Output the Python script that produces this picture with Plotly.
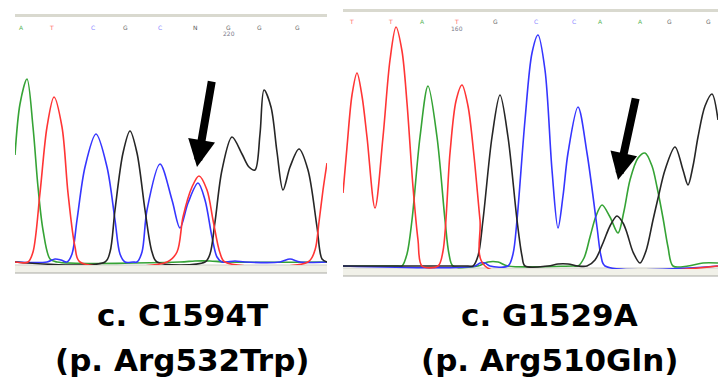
import plotly.graph_objects as go

W, H = 718, 383

# ---------------- Left chromatogram (c.C1594T) ----------------
# scan position / signal intensity
L_green_x = [0, 5, 12, 18, 23, 28, 35, 42, 165, 180, 195, 210, 312]
L_green_y = [107, 158, 183, 135, 75, 32, 3, 0, 0, 1, 1, 0, 0]

L_blue_x = [0, 32, 40, 46, 52, 57, 62, 70, 81, 92, 100, 105, 110, 118, 122, 127, 132,
            145, 157, 165, 173, 183, 190, 197, 202, 207, 220, 230, 265, 275, 285, 312]
L_blue_y = [0, 0, 3, 2, 0, 8, 42, 95, 128, 95, 42, 8, 0, 0, 0, 10, 52,
            98, 62, 34, 59, 79, 62, 25, 5, 0, 1, 0, 0, 3, 0, 0]

L_black_x = [0, 90, 95, 100, 108, 115, 122, 130, 137, 142, 190, 195, 200, 207, 217, 227,
             234, 240, 245, 249, 256, 262, 268, 275, 284, 293, 302, 307, 312]
L_black_y = [0, 0, 10, 52, 109, 131, 109, 52, 10, 0, 0, 8, 40, 92, 125, 108,
             95, 92, 128, 172, 155, 110, 72, 95, 113, 92, 35, 3, 0]

L_red_x = [0, 13, 18, 25, 32, 39, 47, 53, 60, 65, 152, 162, 168, 177, 184, 192, 198,
           205, 210, 293, 300, 304, 308, 312]
L_red_y = [0, 0, 10, 69, 135, 165, 135, 69, 15, 0, 0, 10, 45, 75, 86, 72, 42,
           9, 0, 0, 12, 40, 72, 99]

L_bases = ["A", "T", "C", "G", "C", "N", "G", "G", "G"]
L_base_pos = [6, 36, 78, 110, 145, 180, 213, 244, 282]
L_ruler_pos = [214]
L_ruler_lab = ["220"]
L_arrow_tip = (182, 95)
L_arrow_tail = (197, 182)

# ---------------- Right chromatogram (c.G1529A) ----------------
R_green_x = [0, 55, 59, 64, 69, 77, 85, 94, 102, 106, 110, 135, 145, 155, 165, 230, 235,
             241, 247, 253, 259, 267, 275, 281, 287, 295, 302, 309, 314, 320, 325, 330,
             345, 360, 375]
R_green_y = [0, 0, 0, 12, 46, 129, 180, 129, 46, 12, 0, 0, 4, 4, 0, 0, 0,
             8, 29, 50, 61, 49, 33, 55, 86, 108, 113, 100, 79, 48, 19, 0,
             0, 3, 3]

R_blue_x = [0, 132, 137, 142, 147, 165, 170, 174, 182, 189, 195, 202, 209, 215, 220, 225,
            235, 244, 254, 258, 262, 375]
R_blue_y = [0, 0, 3, 3, 0, 0, 12, 46, 146, 213, 231, 196, 96, 38, 70, 113,
            159, 113, 39, 10, 0, 0]

R_black_x = [0, 125, 130, 135, 140, 149, 157, 165, 174, 179, 182, 205, 215, 225, 235, 244,
             252, 260, 267, 274, 280, 284, 290, 297, 303, 310, 316, 322, 332, 340, 345,
             350, 355, 362, 369, 375]
R_black_y = [0, 0, 0, 10, 46, 129, 171, 129, 46, 10, 0, 0, 2, 2, 0, 0,
             6, 23, 40, 50, 43, 33, 14, 3, 15, 46, 72, 96, 119, 96, 81,
             100, 129, 160, 172, 146]

R_red_x = [0, 4, 9, 14, 19, 24, 32, 40, 47, 53, 59, 64, 70, 75, 79, 95, 100, 107, 113,
           119, 125, 131, 137, 142, 375]
R_red_y = [73, 119, 171, 193, 170, 129, 58, 129, 206, 239, 215, 163, 79, 26, 0, 0, 15, 113, 165,
           181, 160, 110, 46, 0, 0]

R_bases = ["T", "T", "A", "T", "G", "C", "C", "A", "A", "G", "G"]
R_base_pos = [8, 47, 79, 113, 152, 193, 231, 257, 297, 326, 365]
R_ruler_pos = [114]
R_ruler_lab = ["160"]
R_arrow_tip = (275, 86)
R_arrow_tail = (293, 169)

captions = [["c. C1594T", "(p. Arg532Trp)"], ["c. G1529A", "(p. Arg510Gln)"]]

# ---------------- styles ----------------
COL = {"green": "#35a335", "blue": "#3535ff", "black": "#262626", "red": "#ff3535"}
BASE_COL = {"A": "#5cb85c", "T": "#ff6a6a", "C": "#8a8aff", "G": "#6a6a6a", "N": "#555555"}


def py(p):  # pixel row -> paper y
    return 1 - p / H


fig = go.Figure()

panels = [
    ("x", "y", [(L_green_x, L_green_y, "green"), (L_blue_x, L_blue_y, "blue"),
                (L_black_x, L_black_y, "black"), (L_red_x, L_red_y, "red")]),
    ("x2", "y2", [(R_green_x, R_green_y, "green"), (R_blue_x, R_blue_y, "blue"),
                  (R_black_x, R_black_y, "black"), (R_red_x, R_red_y, "red")]),
]
for xa, ya, series in panels:
    for xs, ys, c in series:
        fig.add_trace(go.Scatter(x=xs, y=ys, mode="lines", xaxis=xa, yaxis=ya,
                                 line=dict(color=COL[c], width=1.6, shape="spline", smoothing=0.9),
                                 hoverinfo="skip", showlegend=False))

fig.update_layout(
    width=W, height=H, margin=dict(l=0, r=0, t=0, b=0),
    paper_bgcolor="white", plot_bgcolor="rgba(0,0,0,0)",
    xaxis=dict(domain=[15 / W, 327 / W], range=[0, 312], visible=False, fixedrange=True),
    yaxis=dict(domain=[py(265), py(30)], range=[-3, 232], visible=False, fixedrange=True),
    xaxis2=dict(domain=[343 / W, 1], range=[0, 375], visible=False, anchor="y2", fixedrange=True),
    yaxis2=dict(domain=[py(269), py(20)], range=[-3, 246], visible=False, anchor="x2", fixedrange=True),
)

shapes = []
# sequence-viewer header bars and footer bands
for x0, x1, top0, top1, b0, b1 in [(15, 327, 14, 17, 265, 273), (343, 718, 9, 12, 268, 276)]:
    shapes.append(dict(type="rect", xref="paper", yref="paper", x0=x0 / W, x1=x1 / W,
                       y0=py(top1), y1=py(top0), fillcolor="#d9d9cf", line=dict(width=0), layer="below"))
    shapes.append(dict(type="rect", xref="paper", yref="paper", x0=x0 / W, x1=x1 / W,
                       y0=py(b1), y1=py(b0), fillcolor="#f1f1e9", line=dict(width=0), layer="below"))
    shapes.append(dict(type="line", xref="paper", yref="paper", x0=x0 / W, x1=x1 / W,
                       y0=py(b0), y1=py(b0), line=dict(color="#cfcfc7", width=1), layer="below"))
    shapes.append(dict(type="line", xref="paper", yref="paper", x0=x0 / W, x1=x1 / W,
                       y0=py(b1), y1=py(b1), line=dict(color="#a9a9a3", width=1.2), layer="below"))
fig.update_layout(shapes=shapes)

ann = []
for xa, bases, pos, row, rpos, rlab, rrow in [("x", L_bases, L_base_pos, 22, L_ruler_pos, L_ruler_lab, 28),
                                               ("x2", R_bases, R_base_pos, 16, R_ruler_pos, R_ruler_lab, 23)]:
    for b, p in zip(bases, pos):
        ann.append(dict(x=p, y=py(row), xref=xa, yref="paper", text=b, showarrow=False,
                        font=dict(family="DejaVu Sans", size=6, color=BASE_COL[b])))
    for p, lab in zip(rpos, rlab):
        ann.append(dict(x=p, y=py(rrow), xref=xa, yref="paper", text=lab, showarrow=False,
                        font=dict(family="DejaVu Sans", size=6, color="#7a7a8a")))

for xa, ya, tip, tail in [("x", "y", L_arrow_tip, L_arrow_tail), ("x2", "y2", R_arrow_tip, R_arrow_tail)]:
    ann.append(dict(x=tip[0], y=tip[1], xref=xa, yref=ya, ax=tail[0], ay=tail[1],
                    axref=xa, ayref=ya, text="", showarrow=True, arrowhead=2,
                    arrowsize=0.68, arrowwidth=8, arrowcolor="black", standoff=0))

for cx, (l1, l2) in zip([182.5 / W, 549 / W], captions):
    ann.append(dict(x=cx, y=py(315), xref="paper", yref="paper", text=l1, showarrow=False,
                    xanchor="center", yanchor="middle",
                    font=dict(family="DejaVu Sans", size=31, color="black", weight="bold")))
    ann.append(dict(x=cx, y=py(360), xref="paper", yref="paper", text=l2, showarrow=False,
                    xanchor="center", yanchor="middle",
                    font=dict(family="DejaVu Sans", size=31, color="black", weight="bold")))
fig.update_layout(annotations=ann)

# remove the browser's default page margin so the figure fills the window exactly
fig.write_html("out.html", config={"displayModeBar": False},
               post_script="document.body.style.margin='0px';")
